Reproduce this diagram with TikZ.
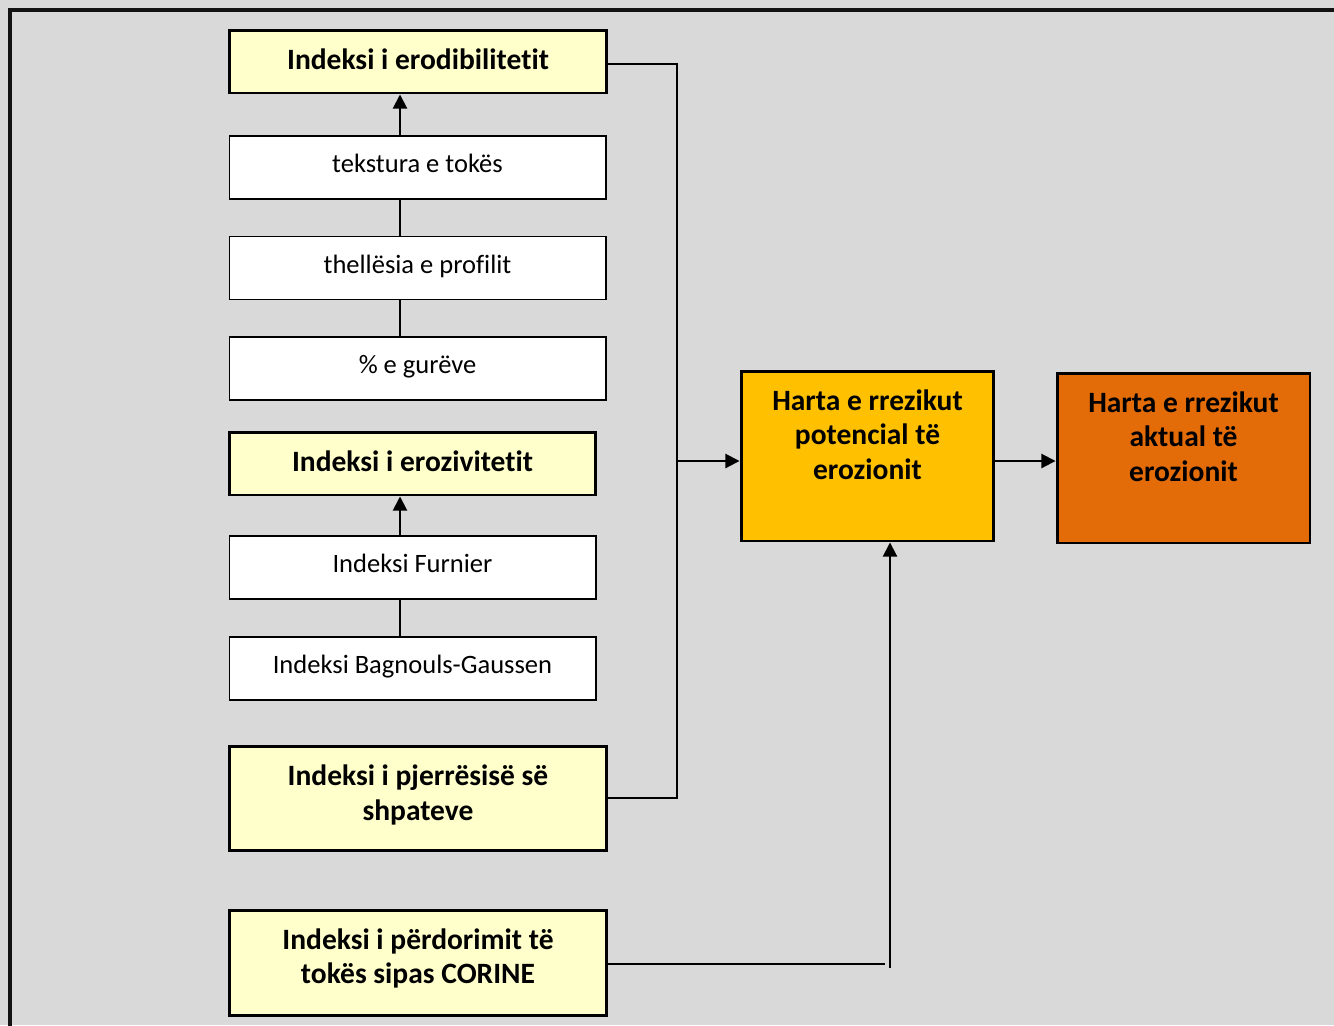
\documentclass[tikz,border=0pt]{standalone}
\usepackage{fontspec}
\setmainfont{Carlito}[Ligatures=NoCommon]
\usetikzlibrary{arrows.meta}

\definecolor{bggray}{HTML}{D9D9D9}
\definecolor{indexyellow}{HTML}{FFFFCC}
\definecolor{potorange}{HTML}{FFC000}
\definecolor{actorange}{HTML}{E36C09}

\tikzset{
  factor/.style={draw=black, line width=0.6pt, fill=white, inner sep=0pt,
    minimum height=1.26cm, text depth=4.6pt, font=\fontsize{15.1}{18}\selectfont},
  index/.style={draw=black, line width=1.7pt, fill=indexyellow, inner sep=0pt,
    minimum height=1.26cm, text depth=2.5pt, font=\bfseries\fontsize{16.8}{19.8}\selectfont},
  mapbox/.style={draw=black, line width=1.7pt, inner sep=0pt,
    minimum width=5.06cm, minimum height=3.4cm},
  boxtext/.style={align=center, inner sep=0pt,
    font=\bfseries\fontsize{16.8}{19.8}\selectfont},
  maptext/.style={boxtext, anchor=north},
  link/.style={line width=1.1pt},
  feed/.style={line width=1.1pt, -{Triangle[length=8pt,width=8pt]}}
}

\begin{document}
\begin{tikzpicture}[x=0.02cm, y=-0.02cm]
    \clip (0,0) rectangle (1334,1025);
    \fill[bggray] (0,0) rectangle (1334,1025);
    \draw[line width=2.3pt, black!93] (10,10) rectangle (1370,1060);

    % Erodibility
    \node[index, minimum width=7.56cm] (erod) at (418,61.5) {Indeksi i erodibilitetit};
    \node[factor, minimum width=7.54cm] (tekstura) at (417.5,167.5) {tekstura e tokës};
    \node[factor, minimum width=7.54cm] (thellesia) at (417.5,268) {thellësia e profilit};
    \node[factor, minimum width=7.54cm] (gureve) at (417.5,368.5) {\% e gurëve};

    % Erosivity
    \node[index, minimum width=7.34cm] (eroziv) at (412.5,463.5) {Indeksi i erozivitetit};
    \node[factor, minimum width=7.34cm] (furnier) at (412.5,567.5) {Indeksi Furnier};
    \node[factor, minimum width=7.34cm] (bagnouls) at (412.5,668.5) {Indeksi Bagnouls-Gaussen};

    % Slope and land use
    \node[index, minimum width=7.56cm, minimum height=2.08cm] (pjerr) at (418,798) {};
    \node[boxtext] (pjerrtxt) at (418,795) {Indeksi i pjerrësisë së\\shpateve};
    \node[index, minimum width=7.56cm, minimum height=2.1cm] (corine) at (418,962.5) {};
    \node[boxtext] (corinetxt) at (418,958.5) {Indeksi i përdorimit të\\tokës sipas CORINE};

    % Risk maps
    \node[mapbox, fill=potorange] (potencial) at (867.5,456) {};
    \node[maptext] (potencialtxt) at (867.5,389) {Harta e rrezikut\\potencial të\\erozionit};
    \node[mapbox, fill=actorange] (aktual) at (1183.5,458) {};
    \node[maptext] (aktualtxt) at (1183.5,391) {Harta e rrezikut\\aktual të\\erozionit};

    % Connectors
    \coordinate (spine) at (400,0);
    \coordinate (bus) at (677,0);
    \coordinate (mid) at (0,461);
    \coordinate (landend) at (885,964);
    \coordinate (landup) at (890,968);

    \draw[feed] (spine |- tekstura.north) -- (spine |- erod.south);
    \draw[link] (spine |- tekstura.south) -- (spine |- thellesia.north);
    \draw[link] (spine |- thellesia.south) -- (spine |- gureve.north);
    \draw[feed] (spine |- furnier.north) -- (spine |- eroziv.south);
    \draw[link] (spine |- furnier.south) -- (spine |- bagnouls.north);

    \draw[link] (erod.east |- 0,64) -| (bus |- pjerr.east) -- (pjerr.east);
    \draw[feed] (bus |- mid) -- (potencial.west |- mid);
    \draw[feed] (potencial.east |- mid) -- (aktual.west |- mid);

    \draw[link] (corine.east |- landend) -- (landend);
    \draw[feed] (landup) -- (landup |- potencial.south);
\end{tikzpicture}
\end{document}
